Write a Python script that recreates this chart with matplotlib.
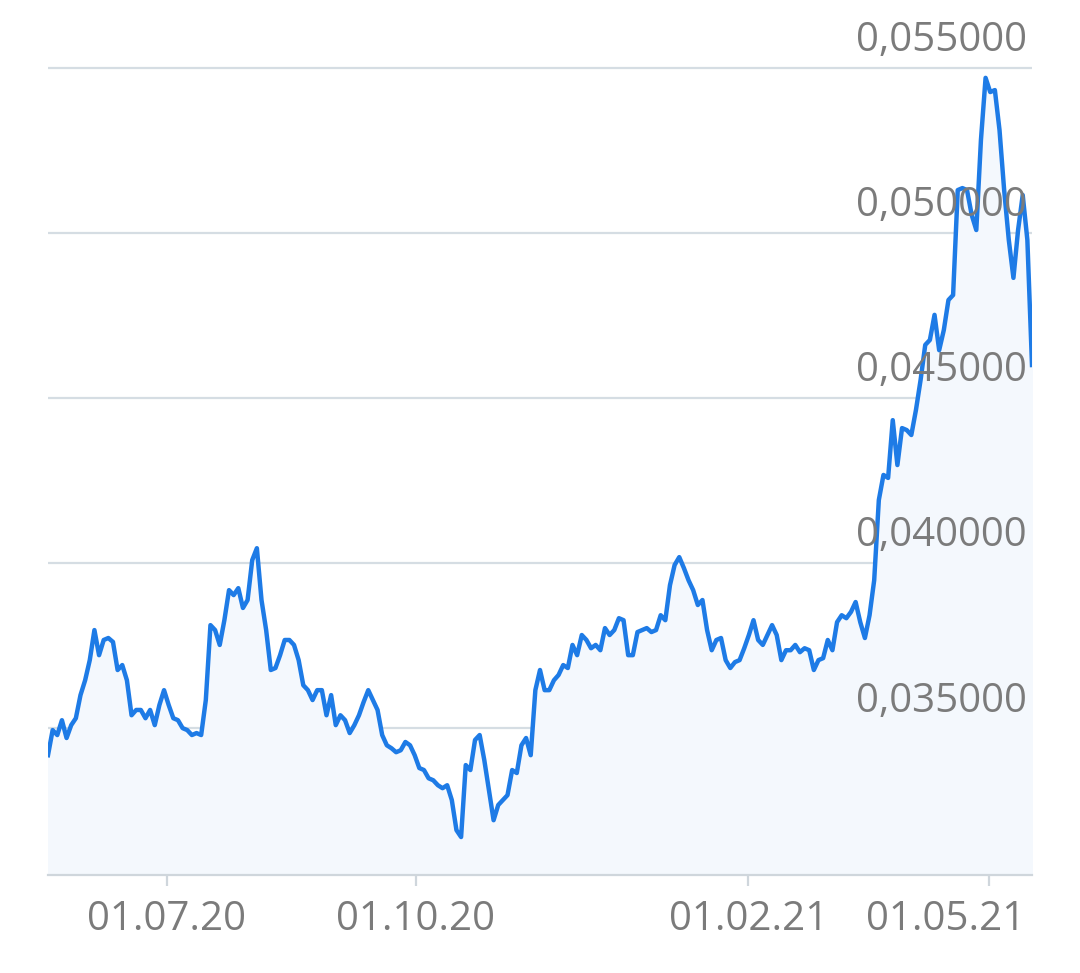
import matplotlib
matplotlib.use("Agg")
import matplotlib.pyplot as plt
import matplotlib.transforms as mtrans
import pandas as pd

values_e3 = [34.18,34.94,34.79,35.24,34.70,35.09,35.30,36.00,36.45,37.06,37.97,37.21,37.67,37.73,37.61,36.76,36.91,36.45,35.39,35.55,35.55,35.30,35.55,35.09,35.70,36.15,35.70,35.30,35.24,35.00,34.94,34.79,34.85,34.79,35.85,38.12,37.97,37.52,38.27,39.18,39.03,39.24,38.64,38.88,40.09,40.45,38.88,37.97,36.76,36.82,37.21,37.67,37.67,37.52,37.06,36.30,36.15,35.85,36.15,36.15,35.39,36.00,35.09,35.39,35.24,34.85,35.09,35.39,35.79,36.15,35.85,35.55,34.79,34.48,34.39,34.27,34.33,34.58,34.48,34.18,33.79,33.73,33.48,33.42,33.27,33.18,33.27,32.82,31.91,31.70,33.88,33.73,34.64,34.79,34.03,33.12,32.21,32.67,32.82,32.97,33.73,33.64,34.48,34.70,34.18,36.15,36.76,36.15,36.15,36.45,36.61,36.91,36.82,37.52,37.21,37.82,37.67,37.42,37.52,37.36,38.03,37.82,37.97,38.33,38.27,37.21,37.21,37.91,37.97,38.03,37.91,37.97,38.42,38.27,39.33,39.94,40.18,39.85,39.48,39.18,38.73,38.88,37.97,37.36,37.67,37.73,37.06,36.82,37.00,37.06,37.42,37.82,38.27,37.67,37.52,37.82,38.12,37.82,37.06,37.36,37.36,37.52,37.30,37.42,37.36,36.76,37.06,37.12,37.67,37.36,38.21,38.42,38.33,38.52,38.82,38.21,37.73,38.42,39.48,41.91,42.67,42.58,44.33,42.97,44.09,44.03,43.88,44.64,45.55,46.61,46.76,47.52,46.45,47.06,47.97,48.12,51.30,51.36,51.30,50.55,50.09,52.82,54.70,54.27,54.33,53.12,51.30,49.79,48.64,50.09,51.15,49.79,46.00]
values = [v / 1000 for v in values_e3]
dates = pd.date_range("2020-05-18", "2021-05-17", periods=len(values))

yticks = [0.035, 0.040, 0.045, 0.050, 0.055]
ytick_labels = ["0,035000", "0,040000", "0,045000", "0,050000", "0,055000"]
xticks = pd.to_datetime(["2020-07-01", "2020-10-01", "2021-02-01", "2021-05-01"])
xtick_labels = ["01.07.20", "01.10.20", "01.02.21", "01.05.21"]

plt.rcParams['font.family'] = ['Open Sans', 'DejaVu Sans']
W, H = 1080, 973
fig = plt.figure(figsize=(W/100, H/100), dpi=100)
ax = fig.add_axes([48/W, 1-875/H, (1032-48)/W, (875-30)/H])
ymin, ymax = 0.03055, 0.05615
ax.set_ylim(ymin, ymax)
ax.set_xlim(dates[0], dates[-1])

for t in yticks:
    ax.axhline(t, color="#d5dde3", lw=1.6, zorder=1)
for t, lab in zip(yticks, ytick_labels):
    ax.text(0.995, t + 0.0002, lab, transform=ax.get_yaxis_transform(), ha="right", va="bottom",
            fontsize=29, color="#7b7b7b", zorder=5)

ax.fill_between(dates, values, ymin, color="#f4f8fd", zorder=2)
ax.plot(dates, values, color="#1e7be6", lw=3.2, zorder=3, solid_joinstyle="round")

for s in ["top", "right", "left"]:
    ax.spines[s].set_visible(False)
ax.spines["bottom"].set_color("#cfd6dc")
ax.spines["bottom"].set_linewidth(1.6)
ax.set_yticks([])
ax.set_xticks(xticks)
ax.set_xticklabels(xtick_labels, fontsize=29, color="#7b7b7b")
ax.tick_params(axis="x", length=8, width=1.6, color="#cfd6dc", pad=10)
last = ax.get_xticklabels()[-1]
last.set_ha("right")
last.set_transform(last.get_transform() + mtrans.ScaledTranslation(0.37, 0, fig.dpi_scale_trans))
fig.savefig("out.png", dpi=100)
